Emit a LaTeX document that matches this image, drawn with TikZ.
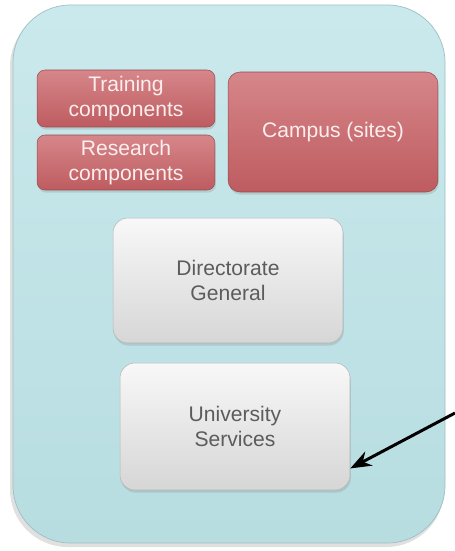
\documentclass[tikz,border=0pt]{standalone}
\usepackage{fontspec}
\setmainfont{Liberation Sans}
\usepackage{tikz}
\usetikzlibrary{arrows.meta}
\usetikzlibrary{shadows}

\definecolor{frametop}{HTML}{CAE9EC}
\definecolor{framebot}{HTML}{B7DDE1}
\definecolor{frameline}{HTML}{9DBFC3}
\definecolor{redtop}{HTML}{D6868A}
\definecolor{redmid}{HTML}{C8686C}
\definecolor{redbot}{HTML}{BE5C60}
\definecolor{redtext}{HTML}{FCEEEE}
\definecolor{greytop}{HTML}{F8F8F8}
\definecolor{greymid}{HTML}{E3E3E3}
\definecolor{greybot}{HTML}{D6D6D6}
\definecolor{greytext}{HTML}{5C5C5C}

\begin{document}
\begin{tikzpicture}[x=0.02cm, y=-0.02cm,
	redbox/.style={rounded corners=0.16cm, top color=redtop, middle color=redmid, bottom color=redbot,
		draw=redbot!80!black, line width=0.3pt, text=redtext, align=center, inner sep=1pt,
		font=\fontsize{12}{14}\selectfont, drop shadow={shadow xshift=0.5pt, shadow yshift=-1.5pt, opacity=0.25}},
	greybox/.style={rounded corners=0.3cm, top color=greytop, middle color=greymid, bottom color=greybot,
		draw=greybot!85!black, line width=0.3pt, text=greytext, align=center, inner sep=1pt,
		font=\fontsize{12}{14}\selectfont, drop shadow={shadow xshift=0.5pt, shadow yshift=-1.5pt, opacity=0.25}}]
	
	\useasboundingbox (0,0) rectangle (455,551);
	
	% Frame
	\fill [black, opacity=0.12, rounded corners=1.15cm] (10,9) rectangle (444,547);
	\draw [frameline, line width=0.4pt, top color=frametop, bottom color=framebot, rounded corners=1.15cm] (13,5) rectangle (445,543);
	
	% Components
	\node [redbox, minimum width=3.56cm, minimum height=1.14cm] (train) at (126,98.5) {Training\\components};
	\node [redbox, minimum width=3.56cm, minimum height=1.1cm] (research) at (126,162.5) {Research\\components};
	\node [redbox, rounded corners=0.24cm, minimum width=4.2cm, minimum height=2.4cm] (campus) at (333,132) {Campus (sites)};
	
	% Central level
	\node [greybox, minimum width=4.6cm, minimum height=2.5cm] (dg) at (228,280.5) {Directorate\\General};
	\node [greybox, minimum width=4.6cm, minimum height=2.54cm] (us) at (235,426.5) {University\\Services};
	
	% Arrow
	\coordinate (src) at (455,413);
	\draw [-{Stealth[length=12pt,width=9pt]}, line width=1.7pt] (src) -- (us.-20);
	
\end{tikzpicture}
\end{document}
